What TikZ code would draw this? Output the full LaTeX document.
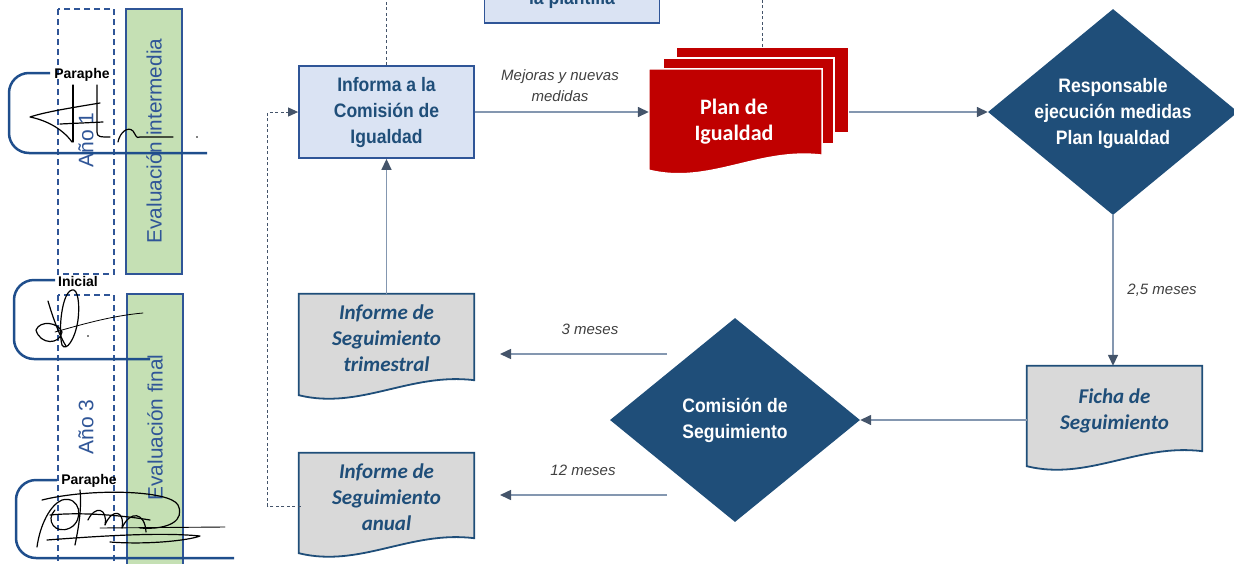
\documentclass[tikz,border=0pt]{standalone}
\usepackage{fontspec}
\setmainfont{Liberation Sans}
\newfontfamily\narrowf[FakeStretch=0.9]{Liberation Sans}
\newfontfamily\calf{Carlito}
\usetikzlibrary{arrows.meta,shapes.geometric,calc}
\definecolor{boxfill}{HTML}{DAE3F3}
\definecolor{boxline}{HTML}{2F5597}
\definecolor{dblue}{HTML}{1F4E79}
\definecolor{docfill}{HTML}{D9D9D9}
\definecolor{pred}{HTML}{C00000}
\definecolor{connc}{HTML}{8497B0}
\definecolor{tipc}{HTML}{44546A}
\definecolor{lblc}{HTML}{404040}
\definecolor{gfill}{HTML}{C5E0B4}
\definecolor{brkc}{HTML}{1F4E8C}
\newcommand\docwave[2]{%
  \path[#2] (#1.north west) -- (#1.north east) -- (#1.south east)
    .. controls ($(#1.south east)+(-64,-8)$) and ($(#1.south west)+(61,30)$) ..
    ($(#1.south west)+(0,15)$) -- cycle;}
\tikzset{
  procbox/.style={draw=boxline, fill=boxfill, line width=1.8pt, minimum width=175, minimum height=92, inner sep=0},
  boxtext/.style={text=dblue, font=\narrowf\bfseries\fontsize{19.5}{26}\selectfont, align=center, inner sep=0},
  dia/.style={diamond, fill=dblue, draw=none, minimum width=250, minimum height=206, inner sep=0},
  diatext/.style={text=white, font=\narrowf\bfseries\fontsize{19.5}{26}\selectfont, align=center, inner sep=0},
  docarea/.style={minimum width=175, minimum height=86, inner sep=0},
  docshape/.style={fill=docfill, draw=dblue, line width=1.8pt},
  redshape/.style={fill=pred, draw=white, line width=1.5pt},
  doctext/.style={text=dblue, font=\calf\bfseries\itshape\fontsize{21}{26}\selectfont, align=center, inner sep=0},
  conn/.style={draw=connc, line width=1.5pt, -{Triangle[length=11pt,width=10pt,color=tipc]}},
  dconn/.style={draw=tipc, line width=0.9pt, dash pattern=on 3pt off 2.5pt},
  lbl/.style={text=lblc, font=\itshape\fontsize{15}{21}\selectfont, align=center, inner sep=0},
  dashrect/.style={draw=boxline, line width=1.3pt, dash pattern=on 6pt off 4pt},
  greenrect/.style={draw=boxline, fill=gfill, line width=1.5pt},
  sidetext/.style={rotate=90, text=boxline, font=\fontsize{20.8}{21}\selectfont, inner sep=0},
  bracket/.style={draw=brkc, line width=2.5pt, rounded corners=20pt},
  siglabel/.style={font=\bfseries\fontsize{14}{14}\selectfont, inner sep=0},
  sig/.style={draw=black, line width=1.2pt, line cap=round, line join=round},
}
\begin{document}
\begin{tikzpicture}[x=1pt,y=-1pt]
\useasboundingbox (0,0) rectangle (1234,563);

% ---- left column ----
\draw[dashrect] (58,9) rectangle (114,274);
\draw[greenrect] (126,9) rectangle (182,274);
\draw[dashrect] (58,295) rectangle (114,575);
\draw[greenrect] (127,294) rectangle (183,575);
\node[sidetext, font=\fontsize{21}{21}\selectfont] (ano1) at (86,140) {Año 1};
\node[sidetext] (evi) at (154,141) {Evaluación intermedia};
\node[sidetext, font=\fontsize{21}{21}\selectfont] (ano3) at (86,427) {Año 3};
\node[sidetext] (evf) at (155,427.5) {Evaluación final};

\draw[bracket] (50,73) -- (9,73) -- (9,153) -- (207,153);
\draw[bracket] (55,280) -- (14,280) -- (14,359) -- (150,359);
\draw[bracket] (57,480) -- (16,480) -- (16,558) -- (234,558);
\node[siglabel] (p1) at (82,75) {Paraphe};
\node[siglabel] (ini) at (78,281) {Inicial};
\node[siglabel] (p2) at (89,481) {Paraphe};

% signature 1
\draw[sig] (73,85) -- (73,142);
\draw[sig] (97,85) -- (97,132) .. controls (97,137) and (100,137) .. (110,137);
\draw[sig] (100,103) .. controls (70,108) and (45,112) .. (30,117) .. controls (45,120) and (62,128) .. (72,142);
\draw[sig] (60,124) -- (103,122);
\draw[sig] (118,142) .. controls (120,132) and (128,126) .. (133,131) .. controls (136,135) and (136,139) .. (140,137) -- (173,137);
\fill (197,137) circle (0.8);

% signature 2
\draw[sig] (48,301) .. controls (55,325) and (62,340) .. (66,346);
\draw[sig] (72,290) .. controls (62,292) and (58,330) .. (62,345) .. controls (66,352) and (75,340) .. (78,320) .. controls (80,305) and (78,288) .. (72,290);
\draw[sig] (36,330) .. controls (40,320) and (58,322) .. (62,332) .. controls (60,345) and (40,345) .. (36,330);
\draw[sig, line width=0.8pt] (55,332) .. controls (80,325) and (110,316) .. (143,313);
\fill (88,336) circle (0.8);

% signature 3
\draw[sig] (42,500) .. controls (90,488) and (170,490) .. (178,505) .. controls (185,520) and (170,530) .. (140,528);
\draw[sig] (37,547) .. controls (40,525) and (50,505) .. (62,500) .. controls (80,495) and (85,520) .. (70,528) .. controls (55,535) and (45,520) .. (55,510);
\draw[sig] (80,490) .. controls (82,510) and (78,530) .. (75,545);
\draw[sig] (88,520) .. controls (95,505) and (108,508) .. (105,525) .. controls (112,508) and (125,510) .. (122,528) .. controls (130,510) and (145,512) .. (146,532);
\draw[sig] (47,540) .. controls (100,536) and (160,532) .. (200,536) .. controls (190,540) and (150,545) .. (110,542);
\draw[sig, line width=0.9pt] (100,528) -- (225,527);
\draw[sig] (50,515) .. controls (80,512) and (120,515) .. (150,520);

% ---- main flow nodes ----
\node[procbox] (pla) at (572,-23) {};
\node[boxtext, anchor=base] (platext) at (572,4) {la plantilla};

\node[procbox] (inf) at (386.5,112) {};
\node[boxtext] (inftext) at (inf.center) {Informa a la\\Comisión de\\Igualdad};

\node[docarea, minimum width=173] (planb) at (762.5,90) {};
\node[docarea, minimum width=171] (planm) at (748.5,101) {};
\node[docarea, minimum width=173] (plan) at (735.5,112) {};
\path[redshape] (planb.north west) rectangle (planb.south east);
\path[redshape] (planm.north west) rectangle (planm.south east);
\docwave{plan}{redshape}
\node[text=white, font=\calf\bfseries\fontsize{22}{26}\selectfont, align=center, inner sep=0] (plantext) at (734,122) {Plan de\\Igualdad};

\node[dia] (resp) at (1113,112) {};
\node[diatext] (resptext) at (1113,113) {Responsable\\ejecución medidas\\Plan Igualdad};

\node[docarea, minimum height=85] (ficha) at (1114.5,408.5) {};
\docwave{ficha}{docshape}
\node[doctext] (fichatext) at (1114.5,411) {Ficha de\\Seguimiento};

\node[dia, minimum height=204] (com) at (735,420) {};
\node[diatext] (comtext) at (735,420) {Comisión de\\Seguimiento};

\node[docarea] (tri) at (386.5,337) {};
\docwave{tri}{docshape}
\node[doctext] (tritext) at (386.5,338) {Informe de\\Seguimiento\\trimestral};

\node[docarea, minimum height=85] (anu) at (386.5,495.5) {};
\docwave{anu}{docshape}
\node[doctext] (anutext) at (386.5,497) {Informe de\\Seguimiento\\anual};

% ---- connectors ----
\coordinate (topA) at (386.5,-2);
\coordinate (topB) at (762.5,-2);
\draw[dconn] (inf.north) -- (topA);
\draw[dconn] (planb.north) -- (topB);

\draw[conn] (inf.east) -- (plan.west);
\node[lbl] (lmej) at (560,86) {Mejoras y nuevas\\medidas};

\draw[conn] (planb.east |- resp.west) -- (resp.west);

\draw[conn] (resp.south) -- (resp.south |- ficha.north);
\node[lbl] (l25) at (1162,290) {2,5 meses};

\draw[conn] (ficha.west |- com.east) -- (com.east);

\coordinate (s3) at (667,354);
\coordinate (e3) at (500,354);
\draw[conn] (s3) -- (e3);
\node[lbl] (l3) at (590,329) {3 meses};

\coordinate (s12) at (667,495);
\coordinate (e12) at (500,495);
\draw[conn] (s12) -- (e12);
\node[lbl] (l12) at (583,470) {12 meses};

\draw[conn] (tri.north) -- (inf.south);

\draw[dconn, -{Triangle[length=10pt,width=9pt,color=tipc]}] ($(anu.west)+(2,10.5)$) -- ++(-33,0) |- (inf.west);
\end{tikzpicture}
\end{document}
